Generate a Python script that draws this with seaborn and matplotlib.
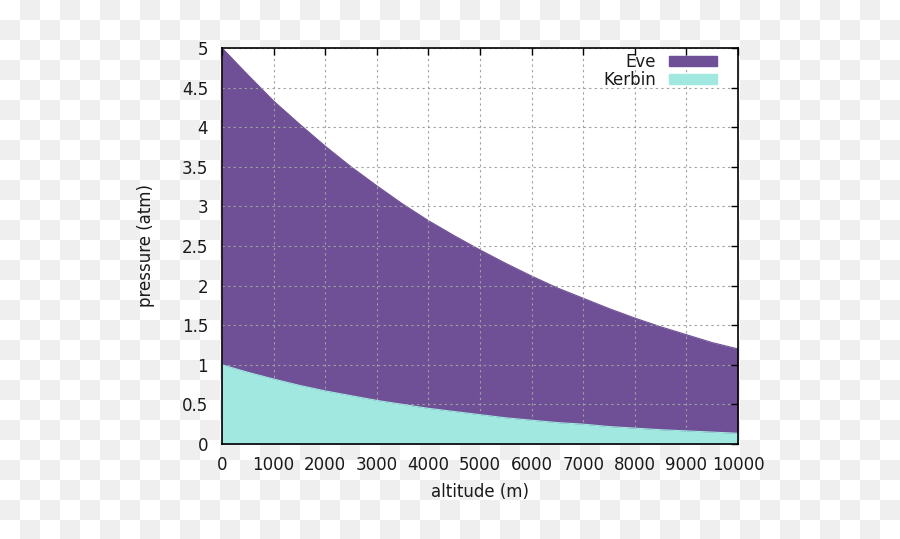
import numpy as np
import pandas as pd
import seaborn as sns
import matplotlib.pyplot as plt
from matplotlib.patches import Patch

# altitude samples (m) and pressure (atm)
altitude = [0, 500, 1000, 1500, 2000, 2500, 3000, 3500, 4000, 4500, 5000,
            5500, 6000, 6500, 7000, 7500, 8000, 8500, 9000, 9500, 10000]
eve = [5.0, 4.66, 4.33, 4.04, 3.76, 3.50, 3.26, 3.03, 2.82, 2.63, 2.45,
       2.28, 2.12, 1.97, 1.84, 1.71, 1.59, 1.48, 1.38, 1.28, 1.20]
kerbin = [1.0, 0.905, 0.82, 0.74, 0.67, 0.61, 0.55, 0.50, 0.45, 0.41, 0.37,
          0.33, 0.30, 0.27, 0.25, 0.22, 0.20, 0.18, 0.165, 0.15, 0.135]

x_ticks = list(range(0, 10001, 1000))
y_ticks = [0, 0.5, 1, 1.5, 2, 2.5, 3, 3.5, 4, 4.5, 5]
y_labels = ['0', '0.5', '1', '1.5', '2', '2.5', '3', '3.5', '4', '4.5', '5']

eve_color = '#6f5096'
kerbin_color = '#a0e8e0'
text_color = '#1a1a1a'

df = pd.DataFrame({'altitude': altitude, 'Eve': eve, 'Kerbin': kerbin})

sns.set_style('white')
plt.rcParams['font.family'] = ['DejaVu Sans']

fig = plt.figure(figsize=(9, 5.39), dpi=100)

# transparency-style checkerboard background
h, w = 539, 900
yy, xx = np.mgrid[0:h, 0:w]
checker = ((yy // 20 + xx // 20) % 2).astype(float)
bg = np.where(checker[..., None] == 1, 0xef / 255, 1.0) * np.ones((h, w, 3))
fig.figimage(bg, xo=0, yo=0, origin='upper', zorder=0)

ax = fig.add_axes([0.2467, 0.1763, 0.5733, 0.7347])
ax.set_zorder(1)
ax.set_facecolor('white')

ax.fill_between(df['altitude'], 0, df['Eve'], color=eve_color, lw=0, zorder=2)
ax.fill_between(df['altitude'], 0, df['Kerbin'], color=kerbin_color, lw=0, zorder=3)
sns.lineplot(data=df, x='altitude', y='Eve', color=eve_color, lw=0.8, ax=ax, zorder=2)
sns.lineplot(data=df, x='altitude', y='Kerbin', color=kerbin_color, lw=0.8, ax=ax, zorder=3)

ax.set_xlim(0, 10000)
ax.set_ylim(0, 5)
ax.set_xticks(x_ticks)
ax.set_yticks(y_ticks)
ax.set_yticklabels(y_labels)
ax.grid(True, color='#a0a0a0', linestyle=(0, (2, 3)), lw=0.8, zorder=4)
ax.set_axisbelow(False)
ax.tick_params(direction='in', length=5, width=1, top=True, right=True,
               labelsize=12, colors='black', labelcolor=text_color)
ax.tick_params(axis='x', pad=9)
ax.tick_params(axis='y', pad=10)
for s in ax.spines.values():
    s.set_color('black')
    s.set_linewidth(1.2)
    s.set_zorder(6)

ax.set_xlabel('altitude (m)', fontsize=12, labelpad=6, color=text_color)
ax.set_ylabel('pressure (atm)', fontsize=12, labelpad=19, color=text_color)

handles = [Patch(color=eve_color, label='Eve'), Patch(color=kerbin_color, label='Kerbin')]
leg = ax.legend(handles=handles, loc='upper right', bbox_to_anchor=(1 - 21 / 516, 1 - 5 / 396),
                frameon=False, markerfirst=False, fontsize=12, handlelength=2.9,
                handleheight=0.54, handletextpad=0.78, labelspacing=0.0,
                borderaxespad=0, borderpad=0)
for t in leg.get_texts():
    t.set_ha('right')
    t.set_color(text_color)
leg.set_zorder(7)

fig.savefig('out.png', dpi=100)
